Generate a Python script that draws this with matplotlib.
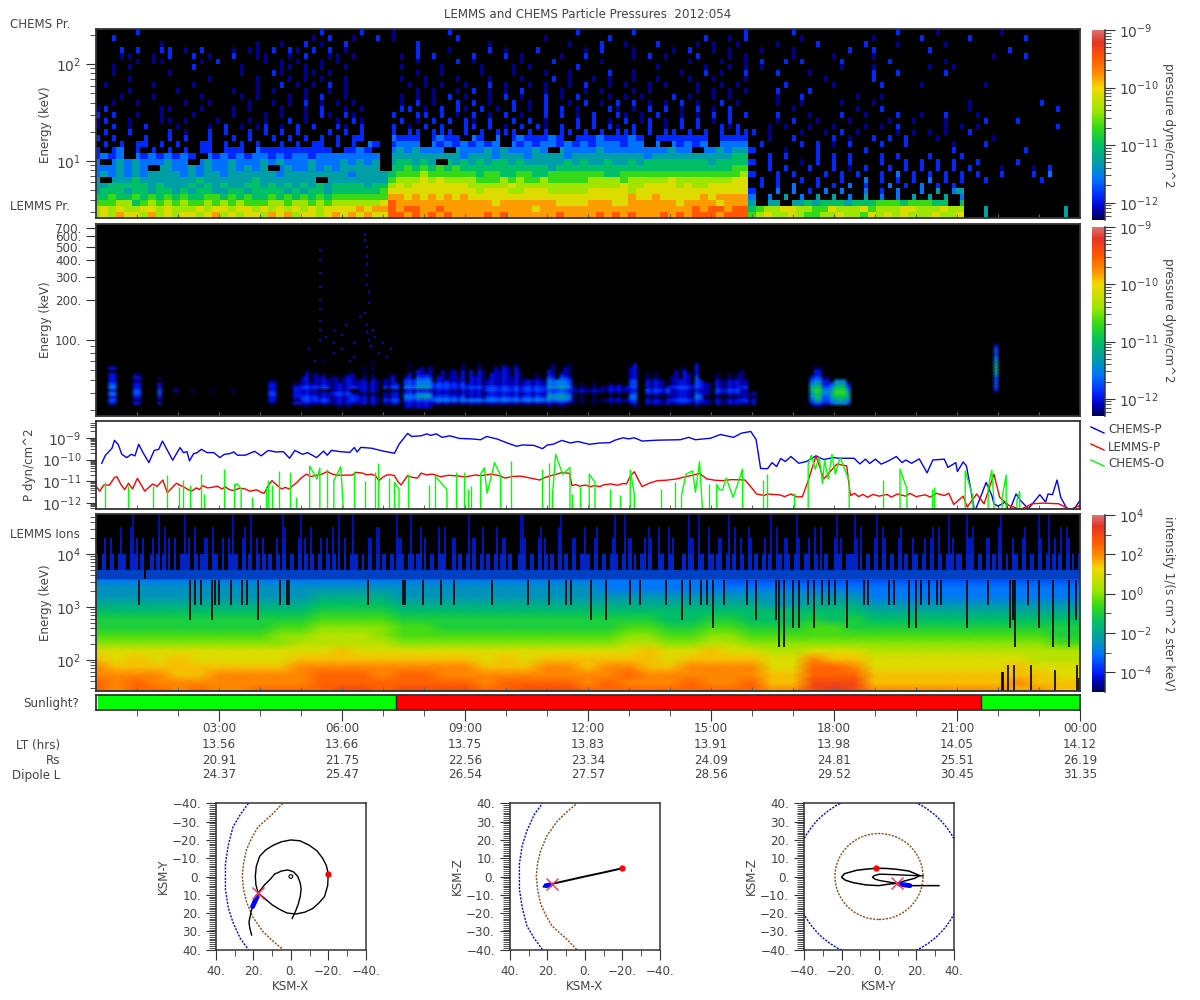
import numpy as np
import matplotlib
matplotlib.use('Agg')
import matplotlib.pyplot as plt
from matplotlib.colors import LinearSegmentedColormap, Normalize
from matplotlib.lines import Line2D
from matplotlib.patches import Circle
from matplotlib.ticker import FixedLocator, NullFormatter, FuncFormatter, LogLocator

TITLE = 'LEMMS and CHEMS Particle Pressures  2012:054'
TIME_LABELS = ['03:00', '06:00', '09:00', '12:00', '15:00', '18:00', '21:00', '00:00']
TIME_HOURS = [3, 6, 9, 12, 15, 18, 21, 24]
LT_VALS = ['13.56', '13.66', '13.75', '13.83', '13.91', '13.98', '14.05', '14.12']
RS_VALS = ['20.91', '21.75', '22.56', '23.34', '24.09', '24.81', '25.51', '26.19']
L_VALS = ['24.37', '25.47', '26.54', '27.57', '28.56', '29.52', '30.45', '31.35']
SUN_SPANS = [(0.05, 7.32, '#00ff00'), (7.32, 21.58, '#ff0000'), (21.58, 24, '#00ff00')]

# CHEMS proton pressure: level digit per energy row (bottom first), three time segments
CHEMS_A = """6768776867677678676776878677678787877
6767667767666767767767676767677778788
5556645656565565656555665665656666667
4454454545454455454544545454545555555
3444344344343443344344443434434444445
3344444343334343433443434343434444344
3.33343333333433333343333333.33333333
2323232333323233233333323333333323333
2223232.33223232232323.2322323233333
2.2323222322.23223222323222322232323
1212.21212121.2121212212122122222222
1.12.1.1.1.1.11.111.2111111111.1121
.1.1.11.1.1..11.1.1.1..1.1.11.1.1.21
1.1...1..1.1..1..1.1..1.1.1.1.1.11.
.1..1....1.0..1.1..1.1.1.1...1.1.1.
0.1.0.1...0...0.1.0.01.0.1.1..10.1.
01..0...00.0...0...0.0..1.0...0.10
1.1..0..0...0....0...0.0..0.10.10.
01......00...0...0.0...0..0.1..0.0
..0..0.....0..0....0..0.0.1.0.0.0.
...0...0.....0....0.0...0.0.1..0.
....0.....0......0..0.0...0..0.0.
.0.....0....0.......0..1.0.0.1.0.
....0.........0.....0...0.0.0..0.
..0......0........0...10..00.0..
..0.0.......1.....0....00.0.0..0.
.....0.00....0.1.....0.0.0..0.0.
...00..0.1..1.0..1..00..0.1..00.0
...1.1..11.0.1...0.00.1.10.1.1.0
........0...........0..0..1.0..1
..1........................0.1..0..1
.....1......................1....1""".split('\n')
CHEMS_B = """998989898888989888888988889898988898989998999
989988988888888888788888888888888888889899899
988888888888878888888777788877888888788887888
887878787877777777777777777777877877777878888
777777777776777667776666677777677777777777777
676777777766666766666666666667667777676677777
566676766665556565565555566665666667666666677
455565555554554455445555555445555555555555556
445454545444444444443444444444444444444444455
344343.43434344343333343433433434444444434444
333333333233323332333323333333332333333333344
2323222.322232322232.32222322222222322.223233
1222.212121212.21212212121222122.2.21212.2222
2111.1211.21.2.1211121.111211121.1111111.1111
1.11.111.1.1.111.1.1.11.1.1.111.1.11.1.1.1.11
1.0.1.1..11.1.0.1.10.1.1.1.10.1.1.0.1.1..101.
.1.0.1.1.10.1..1.1.0...1.1.0.1.01.0.1.1.0.1.
1..11.1.0.1.0.1.0..1.1.0.1..10.0.1..0.0.1.1.1
.11.0.1.10.1.0.1.0.1.1.0...10.0.1.1.0.1.0.1..
.0.1.0..1.1.0..1.0.1..0.1.0.1.1.0.0.1.0..1.0.
.0.0.0.1.0..0.1.0..1.0.1...0.0.0...1.0..0.0..
...0.0..0.1.0.0.1..0.0..0.0...0.0.....0.0.0.0
..0.0.0..0..1.0..0.0..0.1..0.0..0.0...0..0.0.
.0..0...0...0...0...1.0..0.0..0..0...0..0...0
...0..0....0...0...0..0....1..0.....0..1.0..1
.0....0....0...0.0.....1.........0.....0..0.0
...0....1.0.....0...1.....0..........0...0..0
.0.1.1....1...1.0....0..1.....0.1.0...1...0.0
...1...0....1.0...1.....0.1...0....0.1..0.0..
...1........0.........0...1..0...1....0.0..0.
0.......1..........0.......1...........1..0.1
0......1...............1......1.............1""".split('\n')
CHEMS_C = """567667655667665767676667667..3.........3.
456677665576667566677666766..3.........3.
3.33.33434443444555455544.4
2.2.3.2.3.3.2.3.2.2.3.3.3.2
1..2.2.1.2.2..2.1.2..2.3.23
.1.1.2..1.1.2.1..2.1.2.1.1.
.1.1..1.1..1..2.1.1.1.2.1.1..1......1..
1..1.1...1.1.1..1.2.1.1.1.1.1..1...1.2...
..1.1..1..1.0.1..1.1.1.1.1.1...0...0.1.
1.1...0.1.1.1...1..1.1.1.1..1....1...
..1.1...1.1.1...1.1...1...1........
1...0...1.....1..........1........1
.1....1.1.0.1...1..1.....0...1........
..0..1....1.0..1.1.1...0......0...
1.0...0..0.1.0....0.0.0.0..1.......
..0.0..0..0...0.0.1.....0.0.0.........1.
...0.1..0...0....0..0...0....1...1..
...1...0...1..0...1..0..1...0...
.....0.......0..1..........0..........1
...0..0....0...0...........0........1
...0..1......0..0....
...1...1..................
....1.....0.....1....0.......0.......
.........0.....1.........
...1...0.......1..1.....1..
.0.........0...0......0..0.......
.1..1.1....1.....1......0....
.....0....0....0..............0...1..
.0...0......1..1......1.........1....
...0....1.....1...0.....0.......
......0........0.....1.....1......1..
.....1............1....0.......0..""".split('\n')

# LEMMS pressure: (hour start, hour end, level digits per energy row, bottom first)
LEMMS_COLS = [
 (0.35, 0.55, '....1213132111.1'), (0.95, 1.1, '....1012211010'), (1.5, 1.65, '....1012211.0'),
 (1.9, 2.05, '........1'), (2.3, 2.4, '........0'), (2.85, 2.95, '........0'), (3.35, 3.45, '........0'),
 (4.2, 4.4, '....01121110'), (4.85, 5.0, '....1011110'), (5.0, 5.4, '...012211211110.0'),
 (5.4, 5.7, '....1211021110...0'), (5.7, 6.2, '...011121111100.0..0'), (6.2, 6.4, '...012210211110.00'),
 (6.4, 6.95, '....1110111100.0.0'), (7.0, 7.4, '....1211021110.0'), (7.46, 7.8, '...112321322110.0'),
 (7.8, 8.2, '...112431433211100.0'), (8.2, 9.0, '....1321122111100.00'), (9.0, 9.5, '....1311121111100.0'),
 (9.5, 10.4, '....1321221111110.00'), (10.4, 11.0, '....1321221100.0'), (11.0, 11.6, '...013432433211110'),
 (11.6, 12.3, '....0000100'), (12.3, 13.0, '....0100110'), (13.05, 13.25, '...012321222111110.0'),
 (13.4, 14.0, '....1101211100'), (14.0, 14.6, '....1211121111100'), (14.65, 14.85, '...012321222211110'),
 (14.85, 15.0, '....1101111'), (15.1, 15.7, '....1101211100'), (15.7, 15.9, '....1211121111100.0'),
 (15.9, 16.1, '....1101'), (17.37, 17.47, '....123344321'), (17.47, 17.7, '...0245565432110'),
 (17.7, 17.9, '....122332110'), (17.9, 18.0, '....2344432'), (18.0, 18.3, '....34566543'),
 (18.3, 18.42, '....2344321'), (21.88, 21.96, '........122223444332221'),
]
# strength loss per tenth of an hour
LEMMS_DIM = ("0000000000" "0000000000" "0000000000" "0000000000" "0000000000"
             "1021201310" "2012103021" "1300210201" "0120102130" "2010310120"
             "1203102012" "0210130201" "2012301021" "1021020130" "2100130212"
             "1023010213" "0000000000" "0000000000" "0000000000" "0000000000"
             "0000000000" "0000000000" "0000000000" "0000000000")
# highest energy row per tenth of an hour (base 36)
LEMMS_TOP = ("zzzzzzzzzz" "zzzzzzzzzz" "zzzzzzzzzz" "zzzzzzzzzz" "zzzzzzzzzz"
             "dgbeficgdb" "gejcfhbkdf" "ciebgdhcfj" "ehbdgcifdh" "bfdhgceifh"
             "gdifhcjegd" "fhcegibfdg" "echfdibgfe" "ghdbfcieha" "dfcgebhcfe"
             "bfecgdfhce" "zzzzzzzzzz" "zzzzzzzzzz" "zzzzzzzzzz" "zzzzzzzzzz"
             "zzzzzzzzzz" "zzzzzzzzzz" "zzzzzzzzzz" "zzzzzzzzzz")
LEMMS_SPECK_H = [5.46, 5.46, 5.46, 5.46, 5.46, 5.46, 5.46, 5.46, 5.46, 5.8, 5.8, 5.8, 6.0, 6.0, 6.3, 6.3,
                 6.55, 6.55, 6.6, 6.6, 6.6, 6.62, 6.62, 6.65, 6.65, 6.55, 6.6, 6.62, 6.65, 6.7, 6.9, 7.1,
                 5.2, 5.6, 6.1, 6.45, 6.75, 7.0, 7.2, 5.35, 6.2, 6.8]
LEMMS_SPECK_E = [475, 400, 320, 250, 200, 170, 140, 120, 100, 120, 95, 80, 110, 85, 95, 75,
                 620, 560, 500, 430, 370, 310, 260, 230, 190, 160, 130, 115, 100, 90, 80, 75,
                 85, 105, 130, 150, 120, 95, 85, 70, 70, 105]

# Line panel: hour and log10 pressure
P_HOUR = [.14,.23,.39,.45,.54,.63,.75,.86,.95,1.04,1.17,1.29,1.42,1.53,1.62,1.75,1.87,2.05,2.13,2.22,2.28,2.38,2.47,2.57,2.71,2.87,3.02,3.13,3.26,3.36,3.45,3.64,3.87,4.03,4.2,4.38,4.57,4.72,4.85,5.04,5.16,5.38,5.55,5.64,5.74,5.97,6.19,6.3,6.37,6.46,6.72,7.0,7.28,7.39,7.6,7.7,7.93,8.07,8.16,8.3,8.44,8.63,8.86,9.14,9.38,9.53,9.79,10.03,10.26,10.4,10.68,10.89,11.01,11.15,11.36,11.57,11.75,12.03,12.29,12.52,12.66,12.85,12.99,13.13,13.32,13.69,14.25,14.45,14.62,14.99,15.23,15.55,15.74,15.97,16.1,16.21,16.38,16.49,16.6,16.7,16.81,16.95,17.14,17.33,17.56,17.75,17.98,18.12,18.49,18.63,18.77,18.87,19.01,19.15,19.33,19.52,19.66,19.75,19.89,20.08,20.27,20.41,20.69,20.78,20.97,21.01,21.15,21.23,21.34,21.43,21.62,21.71,21.85,21.9,22.0,22.18,22.27,22.44,22.55,22.74,23.02,23.16,23.22,23.33,23.44,23.53,23.72,23.86,24.0]
P_LOG = [-10.17,-9.8,-9.48,-9.12,-9.3,-9.76,-9.91,-9.76,-9.83,-9.3,-9.76,-10.14,-9.58,-9.53,-9.15,-9.61,-10.03,-9.45,-9.68,-9.64,-10.06,-9.73,-9.68,-9.53,-9.68,-9.68,-9.91,-9.76,-9.73,-9.65,-9.8,-9.8,-9.62,-9.83,-9.58,-9.65,-9.64,-9.94,-9.58,-9.76,-9.68,-9.91,-9.61,-9.8,-9.58,-9.64,-9.67,-9.45,-9.65,-9.44,-9.48,-9.61,-9.71,-9.3,-8.8,-8.94,-8.91,-8.82,-8.89,-8.82,-8.98,-8.91,-9.03,-9.05,-9.09,-8.94,-9.06,-9.24,-9.39,-9.33,-9.35,-9.5,-9.33,-9.3,-9.12,-9.24,-9.17,-9.3,-9.24,-9.23,-9.11,-9.0,-9.05,-9.0,-9.15,-9.11,-9.09,-8.98,-9.09,-9.02,-8.85,-8.98,-8.79,-8.71,-9.08,-10.41,-10.42,-10.14,-10.32,-9.95,-10.09,-9.86,-10.17,-10.09,-9.83,-10.0,-9.91,-9.94,-9.94,-10.2,-9.98,-10.18,-9.98,-10.21,-10.06,-9.86,-10.14,-10.02,-10.17,-9.97,-10.61,-10.02,-9.98,-10.36,-10.14,-10.55,-10.11,-10.29,-11.42,-12.4,-11.5,-11.05,-11.65,-12.03,-12.14,-11.95,-12.4,-11.58,-11.88,-12.26,-11.61,-11.95,-11.58,-11.61,-10.94,-11.73,-12.4,-12.26,-11.88]
L_HOUR = [.02,.09,.19,.33,.45,.51,.61,.7,.79,.89,1.01,1.19,1.38,1.49,1.63,1.74,1.96,2.05,2.15,2.25,2.33,2.45,2.52,2.61,2.72,2.85,2.95,3.08,3.15,3.25,3.36,3.5,3.64,3.75,3.92,4.02,4.1,4.2,4.29,4.4,4.52,4.62,4.71,4.8,4.9,5.0,5.13,5.25,5.41,5.5,5.64,5.75,5.88,6.0,6.25,6.34,6.5,6.6,6.72,6.82,6.9,7.0,7.09,7.2,7.28,7.36,7.44,7.52,7.6,7.72,7.84,7.93,8.05,8.21,8.3,8.4,8.6,8.86,9.0,9.24,9.4,9.61,9.8,9.98,10.15,10.35,10.6,10.82,10.95,11.1,11.25,11.38,11.48,11.55,11.61,11.7,11.8,11.94,12.05,12.15,12.29,12.4,12.57,12.72,12.85,12.94,13.03,13.13,13.22,13.32,13.5,13.69,13.9,14.16,14.35,14.55,14.72,14.9,15.1,15.28,15.5,15.83,15.95,16.11,16.3,16.38,16.5,16.67,16.8,16.95,17.1,17.23,17.37,17.56,17.75,18.07,18.31,18.4,18.5,18.6,18.7,18.82,18.95,19.1,19.29,19.4,19.55,19.75,19.85,20.0,20.22,20.35,20.5,20.69,20.8,20.92,21.15,21.25,21.48,21.66,21.9,22.04,22.27,22.55,22.83,23.11,23.48,23.76,24.0]
L_LOG = [-11.27,-11.45,-11.17,-11.17,-10.82,-10.79,-11.15,-11.38,-11.09,-11.35,-10.86,-11.45,-11.12,-11.23,-10.94,-11.52,-11.09,-11.18,-11.27,-11.38,-11.45,-11.3,-11.38,-11.2,-11.3,-11.27,-11.22,-11.35,-11.25,-11.38,-11.42,-11.32,-11.35,-11.45,-11.39,-11.5,-11.55,-11.2,-10.97,-11.15,-11.35,-11.28,-11.35,-11.2,-11.05,-10.85,-10.67,-10.78,-10.7,-10.68,-10.55,-10.66,-10.71,-10.72,-10.71,-10.59,-10.62,-10.7,-10.67,-10.75,-10.97,-10.8,-10.71,-10.7,-10.74,-11.0,-11.17,-10.95,-10.74,-10.82,-10.85,-10.62,-10.7,-10.67,-10.72,-10.79,-10.72,-10.76,-10.8,-10.71,-10.74,-10.67,-10.72,-10.85,-10.78,-10.76,-10.85,-10.94,-10.82,-10.74,-10.66,-10.59,-10.62,-10.64,-11.2,-11.15,-11.22,-11.17,-11.25,-11.2,-11.24,-11.15,-11.12,-11.18,-11.1,-11.12,-10.75,-10.56,-10.9,-11.24,-11.08,-10.97,-10.95,-10.89,-10.8,-10.72,-10.64,-10.89,-10.95,-10.97,-10.92,-10.94,-11.2,-11.58,-11.65,-11.58,-11.6,-11.62,-11.7,-11.58,-11.72,-11.7,-10.97,-9.83,-10.89,-10.21,-10.29,-11.65,-11.55,-11.7,-11.6,-11.73,-11.6,-11.68,-11.6,-11.72,-11.58,-11.68,-11.55,-11.7,-11.62,-11.72,-11.55,-11.65,-11.55,-12.06,-11.68,-12.18,-11.58,-12.03,-10.67,-11.73,-12.11,-12.29,-12.03,-12.0,-12.03,-12.29,-12.11]
O_SPIKE_H = [.21,.79,1.38,1.73,2.03,2.13,2.29,2.56,2.63,3.13,3.8,4.15,4.2,4.29,4.46,4.72,4.87,5.63,6.29,6.55,6.81,6.87,7.14,7.6,8.13,8.79,8.97,9.07,9.14,10.13,10.87,11.04,11.61,11.8,12.54,12.78,13.78,14.13,14.95,16.28,16.37,17.03,19.2,20.38,20.43]
O_SPIKE_LOG = [-11.05,-11.23,-11.23,-10.7,-11.27,-10.94,-11.17,-10.67,-11.58,-10.44,-11.7,-11.27,-10.94,-11.15,-10.52,-10.56,-11.7,-10.44,-10.52,-11.0,-10.59,-10.15,-10.85,-10.67,-11.15,-10.55,-10.56,-11.35,-11.2,-10.06,-10.42,-10.15,-11.58,-11.23,-11.35,-11.65,-11.35,-11.02,-11.12,-10.94,-10.67,-11.55,-10.94,-11.35,-11.27]
O_HUMPS = [
 ([3.38,3.45,3.54], [-11.15,-11.12,-11.35]), ([5.21,5.39,5.46], [-10.3,-10.89,-10.39]),
 ([5.8,5.97,6.04], [-10.97,-10.33,-12.5]), ([7.28,7.39], [-11.05,-11.35]), ([8.28,8.56], [-10.77,-11.38]),
 ([9.38,9.47,9.54,9.72,9.87], [-10.67,-10.38,-11.55,-10.14,-10.74]), ([11.13,11.21,11.38,11.56], [-11.73,-9.76,-10.67,-10.36]),
 ([12.03,12.17], [-10.67,-11.05]), ([13.03,13.13], [-10.48,-11.58]),
 ([14.28,14.39,14.55,14.62,14.72,14.79], [-11.65,-10.67,-10.52,-11.5,-10.09,-12.26]),
 ([15.14,15.21,15.28,15.37,15.54,15.77], [-11.15,-11.39,-11.39,-10.85,-11.73,-10.44]),
 ([17.37,17.45,17.54,17.64,17.72,17.77,17.86,17.95,18.03,18.15,18.37], [-10.21,-9.8,-10.44,-9.91,-11.1,-10.03,-10.89,-9.76,-10.67,-9.91,-10.97]),
 ([19.61,19.78], [-10.44,-11.35]), ([21.2,21.39], [-10.52,-11.73]), ([21.76,21.85,21.9], [-11.27,-10.48,-11.88]),
 ([22.1,22.2], [-11.73,-10.71]), ([22.46,22.53], [-11.88,-11.47]),
]

# LEMMS ions: base-36 level per half hour, one row per energy, bottom first
IONS_ROWS = [
 "dcddcdccddd deed eeeeddeeed dddddddd cc efe ccccc ccbcbb",
 "dcdcccccccc dddd ddddcddddc dcccdccd bb eee bbbbb bbcbbb",
 "ccccbbccccc dddc ddcccccccc cdcccccc bb ddd bbbbb bbbbaa",
 "cbbbbbbbbbc cccc ccccbbbccb ccbbcccc aa ddc aaaaa aabaaa",
 "bababaaaaab bbbb bbbbababbb bbbabbbb aa cbb aaaaa aaa999",
 "aaaaaaaaaaa abaa aaaaaaaaaa aabaabaa 99 aaa 99999 999999",
 "88888888889 9999 8888888888 89988998 88 888 88888 888877",
 "77777777788 9998 7777777777 78877887 77 777 77777 777766",
 "66666666677 8888 7766666666 67766776 66 776 66666 666666",
 "66666666666 7777 6666666666 66655665 55 656 55555 555555",
 "55555555555 6666 5555555555 55555555 55 555 44444 444444",
 "44444444444 5555 4444444444 44444444 33 444 33333 333333",
 "33333333333 4444 3333333333 33333333 33 333 22222 222222",
 "33333333333 3333 3333333333 22222222 22 222 22222 222222",
 "22222222222 2222 2222222222 22222211 11 111 11111 111111",
]
IONS_LOGE = [1.42, 1.57, 1.72, 1.87, 2.02, 2.17, 2.32, 2.47, 2.62, 2.77, 2.92, 3.07, 3.22, 3.37, 3.52]
SPIKE_LEVELS = ("21312142153201321431125312231421135214213"
                "12213141215312131241131521131412125312224"
                "31212413121531212142321153121431215213124"
                "21412132153112341121431125312142231521314"
                "12132142321512312421153122341215131214213"
                "21314121532213412132151132141213152141321")
SPIKE_LEVELS2 = ("12131221421312152113122141231213122131512"
                 "31212512131241213125112212131421213215121"
                 "12142113212131421213121251213122141213122"
                 "13121251213212131421211213152121312141213"
                 "21215121312312141121321225112131412131212"
                 "12131412212153121312412121312151213214112")
SPIKE_TOPS = [3200, 5000, 10000, 20000, 32000, 57000]
DROP_H = [1.05,2.29,2.41,2.55,2.83,2.9,3.01,3.29,3.56,3.68,3.94,4.48,4.65,4.71,6.64,7.48,7.54,7.98,8.41,8.74,9.67,10.54,11.04,11.47,11.59,12.08,12.43,13.02,13.27,13.9,14.3,14.48,14.76,14.9,15.04,15.32,15.88,16.1,16.58,16.67,16.77,17.0,17.14,17.37,17.51,17.7,17.89,18.03,18.31,18.73,18.82,19.33,19.47,19.83,20.01,20.11,20.31,20.5,20.6,21.25,21.76,22.29,22.37,22.41,22.72,23.0,23.34,23.72,23.9]
DROP_E = [1100,570,1100,1100,570,1100,1100,1100,1100,1100,570,1100,1100,1100,1100,1100,1100,1100,1100,1100,1100,1100,1100,1100,1100,570,570,1100,1100,1100,570,1100,1100,1100,400,1100,1100,570,570,175,175,400,400,1100,400,1100,1100,1100,400,1100,1100,1100,1100,400,400,1100,1100,1100,1100,400,1100,400,570,175,1100,400,175,175,570]
GAP_H = [22.1, 22.13, 22.25, 22.38, 22.8, 23.4, 23.92, 23.98]
GAP_E = [60, 60, 80, 80, 80, 65, 80, 45]

# Orbit plots, KSM coordinates
XY_X = [21,22,22.4,21,20.3,17.5,14,11,8.7,5,1.6,-1.5,-3.7,-5,-5.5,-5,-4,-2.5,-.7]
XY_Y = [32,28,25,18,15,9,4.5,1.5,-1.3,-3,-3.6,-2.5,0,3.5,7,11,15,19,23]
LOOP_X = [17.5,18.7,19,18.5,16.7,13.5,9.6,5,0,-5,-10,-14,-17,-19,-20,-19.7,-18,-15,-11.7,-7.5,-2.8,2,6,10,14,17.5]
LOOP_Y = [9,4.5,0,-5.5,-11,-14.5,-17,-19,-20,-19.5,-17,-14,-10,-6,-1.5,5,11,14.5,17.5,19.5,20.5,20,18,15.5,12,9]
MP_A = [4.3,10,17.6,21,23.8,25.3,26,25.3,23.8,20.5,15,10,4.6]
MP_B = [-40,-34,-27,-21,-14.5,-7,0,7,13.6,22,30,35,39.6]
BS_A = [22.7,27,31,33.5,35,35,33.5,31,27,22.7]
BS_B = [-40,-34,-27,-17,-7,7,17,25,34,40]
XZ_X = [22, 17.5, 10, 0, -10, -20]
XZ_Z = [-5.5, -4, -2.3, 0, 2.2, 4.5]
YZ_Y = [32,24,16.5,9.5,5,0,-7,-14,-18,-20,-18.5,-12,-7,-1.6,4,9,16,21.7,19,14.5,9.5]
YZ_Z = [-5,-5,-5,-3.7,-4.2,-5,-4.6,-3.3,-2,-.4,1.5,3.4,4,4.5,4.4,4,3,.5,-1,-2.2,-3.7]
YZ2_Y = [23.5,15,8,.4,-2.5,-3.5,-2,.4,5,9.5]
YZ2_Z = [.3,.7,1,1.3,.5,-.4,-1.5,-2.2,-3,-3.7]
BLUE_XY = ([18, 20.5], [11, 16.5])
BLUE_XZ = ([18.5, 20.8], [-4.6, -5])
BLUE_YZ = ([11, 16.5], [-4.2, -5])
CROSS = {'xy': (17.5, 9), 'xz': (17.5, -4), 'yz': (9.5, -3.7)}
RED_PT = {'xy': (-20, -1.3), 'xz': (-20, 4.5), 'yz': (-1.6, 4.5)}
MP_R, BS_R = 23.5, 45

TXT = '#444444'
plt.rcParams.update({'font.family': 'DejaVu Sans', 'font.size': 8.6, 'mathtext.default': 'regular',
                     'text.color': TXT, 'axes.labelcolor': TXT, 'xtick.labelcolor': TXT, 'ytick.labelcolor': TXT,
                     'axes.edgecolor': '#333333', 'xtick.color': '#333333', 'ytick.color': '#333333',
                     'axes.linewidth': 1.1})
W, H = 1200, 1000
fig = plt.figure(figsize=(12, 10), dpi=100, facecolor='white')

stops = [(-12.3,(0,0,.33)),(-12.1,(0,0,.75)),(-11.9,(0,.15,1)),(-11.6,(0,.45,1)),(-11.3,(0,.62,.65)),(-11,(0,.75,.4)),
         (-10.7,(.2,.85,.1)),(-10.4,(.62,.9,0)),(-10.0,(.95,.85,0)),(-9.75,(1,.55,0)),(-9.5,(1,.35,0)),(-9.2,(.9,.2,.15)),(-9,(.85,.45,.45))]
cmap = LinearSegmentedColormap.from_list('rb', [(min(1.0, max(0.0, round((v+12.3)/3.3, 6))), c) for v, c in stops], N=256)
cmap.set_under('black')
pnorm = Normalize(-12.3, -9)
inorm = Normalize(-5, 4)


def pax(l, t, r, b, **kw):
    return fig.add_axes([l/W, 1-b/H, (r-l)/W, (b-t)/H], **kw)


def ftext(x, y, s, ha='left', va='center', **kw):
    fig.text(x/W, 1-y/H, s, ha=ha, va=va, **kw)


def exp_fmt(v, _):
    return '$10^{%d}$' % round(np.log10(v))


def time_axis(ax):
    ax.set_xlim(0, 24)
    ax.xaxis.set_major_locator(FixedLocator(range(1, 24)))
    ax.tick_params(axis='x', which='major', direction='in', length=3, labelbottom=False, color='#666666')
    for s in ax.spines.values():
        s.set_linewidth(1.3)


def log_y(ax, lo, hi):
    ax.set_yscale('log')
    ax.set_ylim(lo, hi)
    ax.yaxis.set_major_locator(LogLocator(10, numticks=20))
    ax.yaxis.set_minor_locator(LogLocator(10, subs=np.arange(2, 10), numticks=20))
    ax.yaxis.set_major_formatter(FuncFormatter(exp_fmt))
    ax.yaxis.set_minor_formatter(NullFormatter())
    ax.tick_params(axis='y', which='major', length=7, labelsize=10)
    ax.tick_params(axis='y', which='minor', length=4)


def colorbar(t, b, lo, hi, norm, label, cy, majors=None, minors=None):
    cax = pax(1092, t, 1105, b)
    e = np.linspace(lo, hi, 257)
    cax.pcolormesh([0, 1], 10.0**e, ((e[:-1]+e[1:])/2)[:, None], cmap=cmap, norm=norm)
    log_y(cax, 10.0**lo, 10.0**hi)
    if majors is not None:
        cax.yaxis.set_major_locator(FixedLocator(majors))
        cax.yaxis.set_minor_locator(FixedLocator(minors))
    cax.yaxis.tick_right()
    cax.set_xticks([])
    for k in ('top', 'bottom', 'left'):
        cax.spines[k].set_visible(False)
    cax.tick_params(axis='y', which='major', labelsize=10, pad=3)
    ftext(1168, cy, label, ha='center', rotation=270, fontsize=8.6)


# CHEMS proton: dense rows use both half cells, sparse rows only the left one
ax1 = pax(96, 29, 1080, 218, facecolor='black')
ncol = (37, 45, 41)
total = sum(ncol)
Z1 = np.full((32, total*2), np.nan)
for r in range(32):
    row = CHEMS_A[r].ljust(ncol[0], '.')[:ncol[0]] + CHEMS_B[r].ljust(ncol[1], '.')[:ncol[1]] + CHEMS_C[r].ljust(ncol[2], '.')[:ncol[2]]
    for c, ch in enumerate(row):
        if ch == '.':
            continue
        v = -12.2 + 0.3*int(ch)
        Z1[r, 2*c] = v
        nxt = row[c+1] if c + 1 < total else '.'
        if nxt != '.' and r < 14:
            Z1[r, 2*c+1] = -12.2 + 0.3*int(nxt)
        elif r < 5 and c < 82:
            Z1[r, 2*c+1] = v
ax1.pcolormesh(np.linspace(0, 24, total*2+1), np.geomspace(2.58, 230, 33), np.ma.masked_invalid(Z1), cmap=cmap, norm=pnorm)
time_axis(ax1)
log_y(ax1, 2.58, 230)
ftext(45, 125, 'Energy (keV)', ha='center', rotation=90)
colorbar(30, 220, -12.3, -9, pnorm, 'pressure dyne/cm^2', 125)

# LEMMS proton
ax2 = pax(96, 224, 1080, 416, facecolor='black')
tc = np.arange(0.05, 24, 0.1)
ec = 26.9*10**(np.arange(60)*0.024)
Z2 = np.full((60, tc.size), -13.0)
for h0, h1, prof in LEMMS_COLS:
    sel = (tc >= h0) & (tc < h1)
    for r, ch in enumerate(prof):
        if ch != '.':
            Z2[r, sel] = -12.25 + 0.25*int(ch)
for c in range(tc.size):
    has = Z2[:, c] > -13
    Z2[has, c] -= 0.09*int(LEMMS_DIM[c])
    Z2[int(LEMMS_TOP[c], 36):, c] = -13.0
ax2.pcolormesh(tc, ec, Z2, shading='gouraud', cmap=cmap, norm=pnorm)
ax2.plot(LEMMS_SPECK_H, LEMMS_SPECK_E, ls='none', marker='s', ms=1.6, color=cmap(pnorm(-12.05)), mew=0)
time_axis(ax2)
ax2.set_yscale('log')
ax2.set_ylim(26.9, 744)
ax2.yaxis.set_major_locator(FixedLocator([100, 200, 300, 400, 500, 600, 700]))
ax2.yaxis.set_major_formatter(FuncFormatter(lambda v, _: '%d.' % v))
ax2.yaxis.set_minor_locator(FixedLocator([30, 40, 50, 60, 70, 80, 90]))
ax2.yaxis.set_minor_formatter(NullFormatter())
ax2.tick_params(axis='y', which='major', length=7)
ax2.tick_params(axis='y', which='minor', length=4)
ftext(45, 320, 'Energy (keV)', ha='center', rotation=90)
colorbar(227, 416, -12.3, -9, pnorm, 'pressure dyne/cm^2', 320)

# Partial pressures
ax3 = pax(96, 421, 1080, 509)
ax3.plot(P_HOUR, 10.0**np.array(P_LOG), color='#0000ff', lw=1)
ax3.plot(L_HOUR, 10.0**np.array(L_LOG), color='#ff0000', lw=1)
ax3.vlines(O_SPIKE_H, 1e-13, 10.0**np.array(O_SPIKE_LOG), color='#00ff00', lw=1)
for hs, ls in O_HUMPS:
    hs2 = [hs[0]] + list(hs) + [hs[-1]]
    ls2 = [-13] + list(ls) + [-13]
    ax3.plot(hs2, 10.0**np.array(ls2), color='#00ff00', lw=1)
time_axis(ax3)
log_y(ax3, 10**-12.27, 10**-8.23)
ftext(29, 465, 'P dyn/cm^2', ha='center', rotation=90)
for yy, col, lab in [(430, '#0000ff', 'CHEMS-P'), (447, '#ff0000', 'LEMMS-P'), (463, '#00ff00', 'CHEMS-O')]:
    fig.add_artist(Line2D([1091/W, 1104/W], [1-(yy-3)/H, 1-(yy+3)/H], color=col, lw=1))
    ftext(1108, yy, lab)

# LEMMS ions
ax4 = pax(96, 514, 1080, 691, facecolor='black')
rows4 = [s.replace(' ', '') for s in IONS_ROWS]
Z4 = np.array([[-4 + 0.5*int(ch, 36) for ch in r.ljust(49, r[-1])[:49]] for r in rows4])
ax4.pcolormesh(np.arange(49)*0.5, 10.0**np.array(IONS_LOGE), Z4, shading='gouraud', cmap=cmap, norm=inorm)
dt = 24/len(SPIKE_LEVELS)
sh = np.concatenate([(np.arange(len(SPIKE_LEVELS)) + 0.25)*dt, (np.arange(len(SPIKE_LEVELS2)) + 0.75)*dt])
lev = np.array([int(c) for c in SPIKE_LEVELS + SPIKE_LEVELS2])
layers = [(1, -3.4), (2, -3.8), (3, -4.0), (4, -4.15), (5, -4.2)]
for k, v in layers:
    sel = lev >= k
    ax4.vlines(sh[sel], SPIKE_TOPS[k-1], SPIKE_TOPS[k], color=cmap(inorm(v)), lw=1.1)
ax4.vlines(DROP_H, DROP_E, 3300, color='black', lw=1.2)
ax4.vlines(GAP_H, 26, GAP_E, color='black', lw=1.2)
time_axis(ax4)
log_y(ax4, 26, 5.7e4)
ftext(45, 603, 'Energy (keV)', ha='center', rotation=90)
colorbar(515, 692, -5, 4, inorm, 'intensity 1/(s cm^2 ster keV)', 603,
         majors=[1e-4, 1e-2, 1, 1e2, 1e4], minors=[1e-3, 1e-1, 1e1, 1e3])

# Sunlight
ax5 = pax(96, 695, 1080, 710)
for h0, h1, c in SUN_SPANS:
    ax5.axvspan(h0, h1, color=c, lw=0)
for h in [7.32, 21.58]:
    ax5.axvline(h, color='#222222', lw=1)
ax5.set_xlim(0, 24)
ax5.set_yticks([])
ax5.xaxis.set_major_locator(FixedLocator(TIME_HOURS))
ax5.xaxis.set_minor_locator(FixedLocator(range(1, 24)))
ax5.xaxis.set_major_formatter(NullFormatter())
ax5.tick_params(axis='x', which='major', direction='out', length=8)
ax5.tick_params(axis='x', which='minor', direction='out', length=4)
for s in ax5.spines.values():
    s.set_linewidth(1.3)

# Texts
ftext(588, 14, TITLE, ha='center')
ftext(10, 25, 'CHEMS Pr.')
ftext(10, 206, 'LEMMS Pr.')
ftext(10, 534, 'LEMMS Ions')
ftext(79, 703, 'Sunlight?', ha='right')
for yy, lab in [(745, 'LT (hrs)'), (760, 'Rs'), (775, 'Dipole L')]:
    ftext(60, yy, lab, ha='right')
for i, h in enumerate(TIME_HOURS):
    x = 96 + h*41
    for yy, s in [(729, TIME_LABELS[i]), (745, LT_VALS[i]), (760, RS_VALS[i]), (775, L_VALS[i])]:
        ftext(x, yy, s, ha='center')


# Orbit plots
def orbit(l, r, xlab, ylab, inv_x, inv_y):
    ax = pax(l, 803, r, 950)
    ax.set_xlim(*( (40.2, -40.2) if inv_x else (-40.2, 40.2) ))
    ax.set_ylim(*( (40.2, -40.2) if inv_y else (-40.2, 40.2) ))
    ax.xaxis.set_major_locator(FixedLocator([-40, -20, 0, 20, 40]))
    ax.xaxis.set_minor_locator(FixedLocator([-30, -10, 10, 30]))
    ax.yaxis.set_major_locator(FixedLocator(range(-40, 41, 10)))
    ax.yaxis.set_minor_locator(FixedLocator(range(-40, 41, 1)))
    fmt = FuncFormatter(lambda v, _: ('\u2212%d.' % -v) if v < 0 else ('%d.' % v))
    ax.xaxis.set_major_formatter(fmt)
    ax.yaxis.set_major_formatter(fmt)
    ax.tick_params(axis='both', which='major', length=7, labelsize=8.6)
    ax.tick_params(axis='y', which='minor', length=5, width=0.6)
    ax.tick_params(axis='x', which='minor', length=4)
    ftext((l+r)/2, 987, xlab, ha='center')
    ftext(l-52, 876, ylab, ha='center', rotation=90)
    return ax


BROWN = '#8b4a1a'
oa = orbit(215.7, 366, 'KSM-X', 'KSM-Y', True, True)
ob = orbit(509.7, 660, 'KSM-X', 'KSM-Z', True, False)
oc = orbit(803.7, 954.3, 'KSM-Y', 'KSM-Z', False, False)
for ax in (oa, ob):
    ax.plot(MP_A, MP_B, color=BROWN, lw=1, ls=(0, (1.5, 1)))
    ax.plot(BS_A, BS_B, color='#0000ff', lw=1, ls=(0, (1.5, 1)))
oc.add_patch(Circle((0, 0), MP_R, fill=False, ec=BROWN, lw=1, ls=(0, (1.5, 1))))
oc.add_patch(Circle((0, 0), BS_R, fill=False, ec='#0000ff', lw=1, ls=(0, (1.5, 1))))
oa.plot(XY_X, XY_Y, color='black', lw=1.0)
oa.plot(LOOP_X, LOOP_Y, color='black', lw=1.0)
oa.add_patch(Circle((0, 0), 1, fill=False, ec='black', lw=0.8))
ob.plot(XZ_X, XZ_Z, color='black', lw=1.4)
oc.plot(YZ_Y, YZ_Z, color='black', lw=1.1)
oc.plot(YZ2_Y, YZ2_Z, color='black', lw=1.0)
for ax, blue, key in [(oa, BLUE_XY, 'xy'), (ob, BLUE_XZ, 'xz'), (oc, BLUE_YZ, 'yz')]:
    ax.plot(*blue, color='#0000ff', lw=3.5, solid_capstyle='round')
    ax.plot(*CROSS[key], marker='x', ms=8, mew=1, color='#ff3050', ls='none')
    ax.plot(*RED_PT[key], marker='o', ms=3.5, color='#ff0000', ls='none')

fig.savefig('out.png', dpi=100, facecolor='white')
